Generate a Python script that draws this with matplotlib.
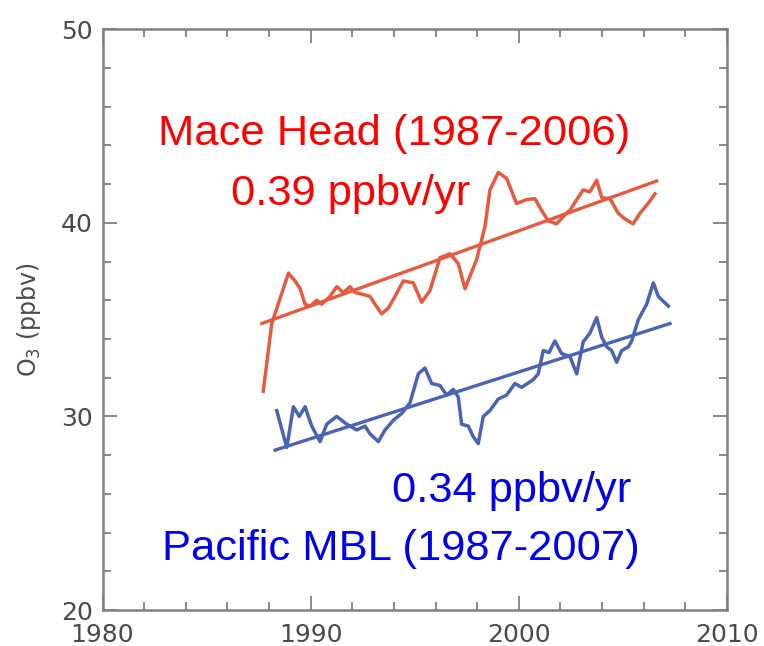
import matplotlib
matplotlib.use("Agg")
import matplotlib.pyplot as plt
from matplotlib.ticker import MultipleLocator

# Mace Head (red)
mh_year = [1987.72, 1988.13, 1988.93, 1989.25, 1989.49, 1989.73, 1989.97, 1990.29, 1990.53,
           1990.93, 1991.25, 1991.57, 1991.89, 1992.13, 1992.53, 1992.85, 1993.09, 1993.41,
           1993.73, 1994.05, 1994.45, 1994.93, 1995.33, 1995.73, 1996.21, 1996.69, 1997.09,
           1997.41, 1997.97, 1998.37, 1998.61, 1999.01, 1999.41, 1999.89, 2000.37, 2000.77,
           2001.09, 2001.41, 2001.81, 2002.29, 2002.45, 2002.78, 2003.09, 2003.41, 2003.74,
           2003.98, 2004.38, 2004.77, 2005.10, 2005.49, 2005.82, 2006.21, 2006.54]
mh_o3 = [31.3, 34.8, 37.4, 37.0, 36.6, 35.8, 35.7, 36.0, 35.8,
         36.2, 36.7, 36.4, 36.7, 36.4, 36.3, 36.2, 35.8, 35.3,
         35.6, 36.2, 37.0, 36.9, 35.9, 36.5, 38.2, 38.4, 37.9,
         36.6, 38.1, 39.8, 41.7, 42.6, 42.3, 41.0, 41.2, 41.25,
         40.65, 40.1, 39.95, 40.5, 40.65, 41.2, 41.7, 41.6, 42.2,
         41.3, 41.25, 40.5, 40.2, 39.95, 40.5, 41.0, 41.5]
mh_trend_year = [1987.65, 2006.62]
mh_trend_o3 = [34.8, 42.16]

# Pacific MBL (blue)
pm_year = [1988.37, 1988.85, 1989.17, 1989.45, 1989.73, 1990.05, 1990.45, 1990.77, 1991.25,
           1991.73, 1992.21, 1992.61, 1992.85, 1993.25, 1993.57, 1993.97, 1994.37, 1994.77,
           1995.17, 1995.49, 1995.81, 1996.21, 1996.53, 1996.85, 1997.09, 1997.25, 1997.57,
           1997.81, 1998.05, 1998.29, 1998.61, 1999.01, 1999.41, 1999.81, 2000.13, 2000.69,
           2000.93, 2001.17, 2001.45, 2001.73, 2002.05, 2002.45, 2002.78, 2003.09, 2003.41,
           2003.74, 2003.98, 2004.22, 2004.46, 2004.70, 2004.94, 2005.26, 2005.42, 2005.74,
           2006.14, 2006.46, 2006.70, 2007.18]
pm_o3 = [30.3, 28.4, 30.5, 30.0, 30.5, 29.5, 28.7, 29.6, 30.0,
         29.6, 29.3, 29.5, 29.1, 28.7, 29.3, 29.8, 30.15, 30.7,
         32.2, 32.5, 31.7, 31.6, 31.1, 31.4, 31.0, 29.6, 29.5,
         28.95, 28.6, 30.0, 30.3, 30.9, 31.1, 31.7, 31.5, 31.9,
         32.2, 33.4, 33.3, 33.9, 33.25, 33.1, 32.2, 33.85, 34.3,
         35.1, 34.1, 33.6, 33.4, 32.8, 33.4, 33.6, 33.9, 35.0,
         35.8, 36.9, 36.2, 35.7]
pm_trend_year = [1988.29, 2007.26]
pm_trend_o3 = [28.26, 34.8]

x_ticks = [1980, 1990, 2000, 2010]
y_ticks = [20, 30, 40, 50]

red_line = '#e65a3f'
blue_line = '#4a63b2'
gray = '#808080'

fig = plt.figure(figsize=(7.64, 6.46), dpi=100)
ax = fig.add_axes([0.1342, 0.0557, 0.8174, 0.899])

ax.plot(mh_year, mh_o3, color=red_line, lw=2.5, solid_joinstyle='round')
ax.plot(mh_trend_year, mh_trend_o3, color=red_line, lw=2.4)
ax.plot(pm_year, pm_o3, color=blue_line, lw=2.5, solid_joinstyle='round')
ax.plot(pm_trend_year, pm_trend_o3, color=blue_line, lw=2.4)

ax.set_xlim(1980, 2010)
ax.set_ylim(20, 50)
ax.set_xticks(x_ticks)
ax.set_yticks(y_ticks)
ax.xaxis.set_minor_locator(MultipleLocator(2))
ax.yaxis.set_minor_locator(MultipleLocator(2))
ax.tick_params(which='both', direction='in', top=True, right=True, color=gray,
               labelcolor='#4a4a4a', labelsize=18, width=1.3)
ax.tick_params(which='major', length=10)
ax.tick_params(which='minor', length=5.5)
ax.tick_params(axis='x', pad=9)
ax.tick_params(axis='y', pad=7)
for s in ax.spines.values():
    s.set_color(gray)
    s.set_linewidth(1.8)

ax.set_ylabel('O$_3$ (ppbv)', fontsize=17, color='#4a4a4a', labelpad=13)

tf = 'Liberation Sans'
ax.text(1994.0, 44.0, 'Mace Head (1987-2006)', color='#ff0000', fontsize=31.3,
        family=tf, ha='center', va='baseline')
ax.text(1991.9, 40.91, '0.39 ppbv/yr', color='#ff0000', fontsize=31.3,
        family=tf, ha='center', va='baseline')
ax.text(1999.65, 25.58, '0.34 ppbv/yr', color='#0000ee', fontsize=31.3,
        family=tf, ha='center', va='baseline')
ax.text(1994.31, 22.58, 'Pacific MBL (1987-2007)', color='#0000ee', fontsize=31.3,
        family=tf, ha='center', va='baseline')

fig.savefig('out.png', dpi=100)
